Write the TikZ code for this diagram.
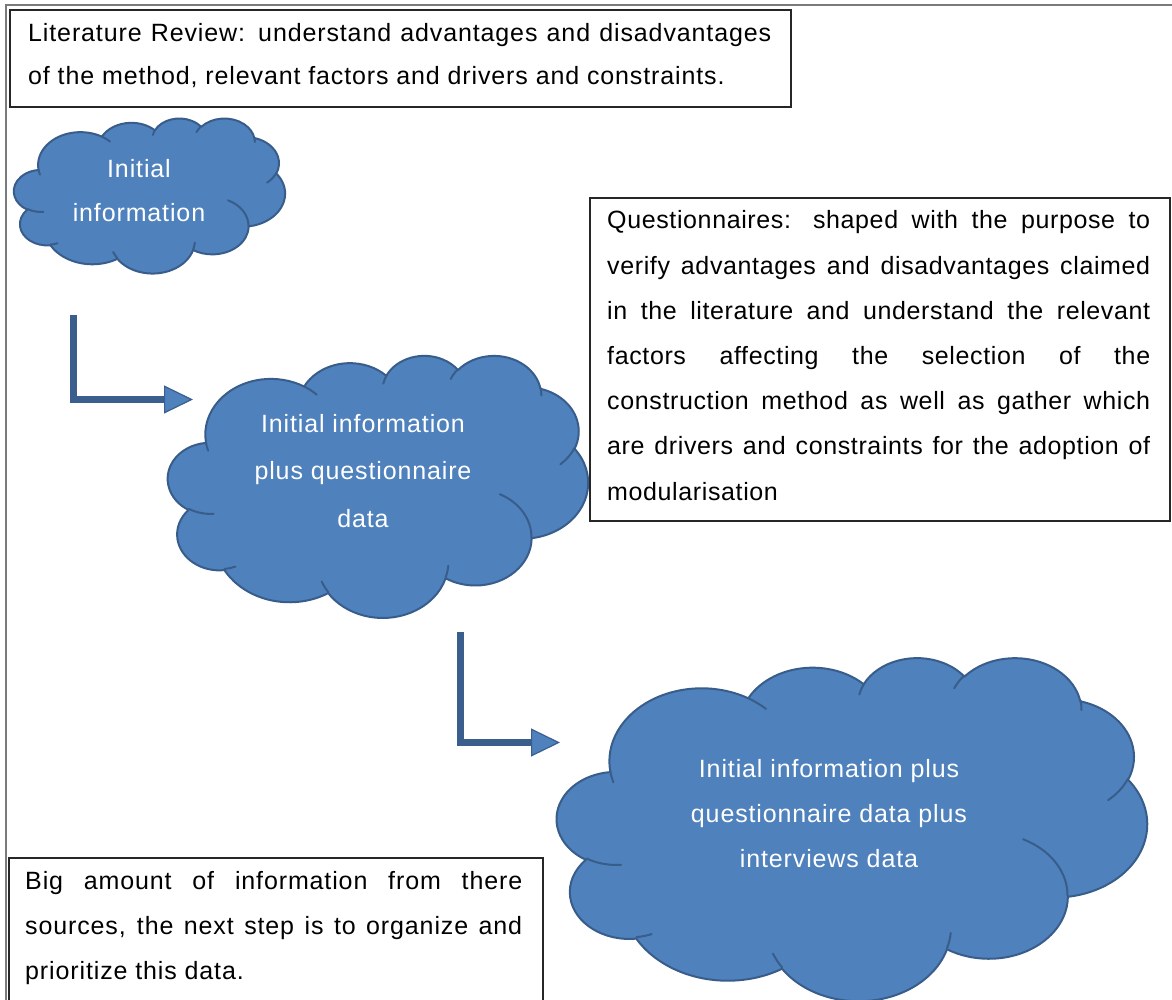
\documentclass[tikz,border=0pt]{standalone}
\usepackage{fontspec}
\setmainfont{Liberation Sans}
\newfontfamily\ls[LetterSpace=3.5]{Liberation Sans}
\newfontfamily\lsq[LetterSpace=2.5]{Liberation Sans}
\usetikzlibrary{arrows.meta}
\definecolor{cloudfill}{HTML}{4F81BD}
\definecolor{cloudline}{HTML}{385D8A}
\definecolor{arrowline}{HTML}{3A5F8E}
\definecolor{framegray}{HTML}{7A7A7A}
\tikzset{
  oarc/.code n args={4}{%
    \pgfmathsetmacro\oaS{atan2((#1)*sin(#3),(#2)*cos(#3))}%
    \pgfmathsetmacro\oaE{atan2((#1)*sin((#3)+(#4)),(#2)*cos((#3)+(#4)))}%
    \pgfmathsetmacro\oaD{mod(\oaE-\oaS+720,360)}%
    \edef\oanext{\noexpand\pgfkeysalso{x radius=#1, y radius=#2, start angle=\oaS, delta angle=\oaD}}%
    \oanext
  },
  cloudshape/.style={fill=cloudfill, draw=cloudline, line width=2pt, line join=round},
  cloudinner/.style={draw=cloudline, line width=2pt, line cap=round},
  textbox/.style={draw=black!85, line width=1.8pt, fill=white},
  frameline/.style={draw=framegray, line width=2pt},
  boxtext/.style={inner sep=0pt, text=black},
  cloudtext/.style={inner sep=0pt, text=white, anchor=base},
  flowarrow/.style={draw=arrowline, line width=7pt, line join=miter,
    -{Triangle[length=29pt,width=28pt,line width=1.2pt,fill=cloudfill]}},
}
\newcommand\officecloud[4]{%
  \pgfmathsetmacro\ocsx{#3/432}%
  \pgfmathsetmacro\ocsy{-#4/432}%
  \begin{scope}[shift={(#1,#2)},x=1pt,y=1pt,xscale=\ocsx,yscale=\ocsy]
    \path[cloudshape] (39.00,143.70)
      arc[oarc={67.53}{91.90}{-190.4875}{123.7805}]
      arc[oarc={53.33}{72.67}{-144.1024}{89.9452}]
      arc[oarc={43.65}{59.45}{-145.8079}{99.7230}]
      arc[oarc={48.57}{65.95}{-130.9861}{117.2417}]
      arc[oarc={53.33}{72.73}{-78.7089}{109.0269}]
      arc[oarc={67.75}{92.20}{-46.2673}{130.2690}]
      arc[oarc={57.85}{78.67}{0.6250}{114.0333}]
      arc[oarc={67.52}{92.15}{22.4516}{115.1726}]
      arc[oarc={77.20}{105.43}{66.2426}{75.7110}]
      arc[oarc={43.60}{59.18}{-274.9421}{146.7356}]
      arc[oarc={43.45}{59.45}{-246.8285}{152.5189}]
      -- cycle;
    \path[cloudinner]
      (46.93,261.77) arc[oarc={43.45}{59.45}{86.7420}{26.4295}]
      (69.28,348.99) arc[oarc={43.60}{59.18}{73.6105}{11.4475}]
      (164.78,390.90) arc[oarc={67.52}{92.15}{137.6242}{14.0811}]
      (288.27,347.51) arc[oarc={67.52}{92.15}{6.4533}{15.9984}]
      (341.29,229.54) arc[oarc={57.85}{78.67}{-70.2924}{70.9174}]
      (417.98,153.54) arc[oarc={53.33}{72.73}{30.3180}{27.7515}]
      (383.24,54.26) arc[oarc={48.57}{65.95}{-13.7443}{14.8589}]
      (290.78,39.52) arc[oarc={48.57}{65.95}{-149.1815}{18.1954}]
      (221.41,47.20) arc[oarc={43.65}{59.45}{-163.4943}{17.6864}]
      (140.00,51.92) arc[oarc={67.53}{91.90}{-66.7070}{12.3194}]
      (41.27,157.89) arc[oarc={67.53}{91.90}{157.6544}{11.8582}];
  \end{scope}}
\begin{document}
\begin{tikzpicture}[x=1pt,y=-1pt]
\useasboundingbox (0,0) rectangle (1172,1000);
\fill[white] (0,0) rectangle (1172,1000);
\draw[frameline] (6,1002) -- (6,5) -- (1174,5);

% Literature review box
\draw[textbox] (10,10) rectangle (791,107);
\node[boxtext, anchor=base west] (lit) at (28,42) {\parbox[t]{743pt}{\ls\fontsize{25}{42.5}\selectfont
\makebox[\linewidth][s]{Literature Review: understand advantages and disadvantages}\par
of the method, relevant factors and drivers and constraints.}};

% Cloud 1
\officecloud{14}{118}{271}{155}
\node[cloudtext] (c1) at (139,178) {\parbox[t]{250pt}{\centering\ls\fontsize{25}{44}\selectfont Initial\\information}};

% Arrow 1
\coordinate (a1s) at (73,315);
\coordinate (a1e) at (193,399.5);
\draw[flowarrow] (a1s) |- (a1e);

% Cloud 2
\officecloud{168}{355}{420}{262}
\node[cloudtext] (c2) at (363,432) {\parbox[t]{330pt}{\centering\ls\fontsize{25}{47.5}\selectfont Initial information\\plus questionnaire\\data}};

% Questionnaire box
\draw[textbox] (590,198) rectangle (1170,521);
\node[boxtext, anchor=base west] (quest) at (607,229) {\parbox[t]{543pt}{\lsq\fontsize{25}{45.2}\selectfont
\makebox[\linewidth][s]{Questionnaires: shaped with the purpose to}\par
\makebox[\linewidth][s]{verify advantages and disadvantages claimed}\par
\makebox[\linewidth][s]{in the literature and understand the relevant}\par
\makebox[\linewidth][s]{factors affecting the selection of the}\par
\makebox[\linewidth][s]{construction method as well as gather which}\par
\makebox[\linewidth][s]{are drivers and constraints for the adoption of}\par
modularisation}};

% Arrow 2
\coordinate (a2s) at (460,632);
\coordinate (a2e) at (560,742.5);
\draw[flowarrow] (a2s) |- (a2e);

% Cloud 3
\officecloud{557}{657}{590}{343}
\node[cloudtext] (c3) at (829,777) {\parbox[t]{420pt}{\centering\ls\fontsize{25}{45}\selectfont Initial information plus\\questionnaire data plus\\interviews data}};

% Big amount box
\draw[textbox] (9,858) rectangle (543,1004);
\node[boxtext, anchor=base west] (big) at (25,889) {\parbox[t]{497pt}{\ls\fontsize{25}{45}\selectfont
\makebox[\linewidth][s]{Big amount of information from there}\par
\makebox[\linewidth][s]{sources, the next step is to organize and}\par
prioritize this data.}};
\end{tikzpicture}
\end{document}
